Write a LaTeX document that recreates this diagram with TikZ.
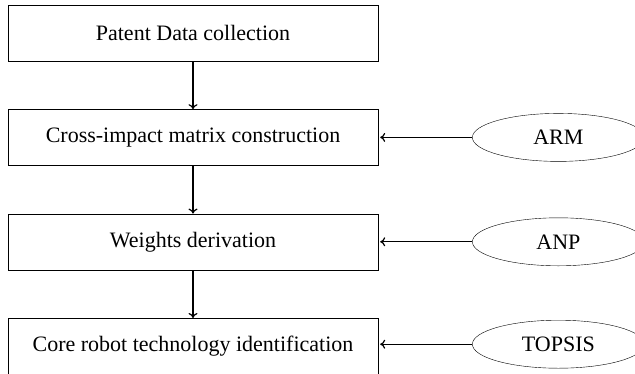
\documentclass[tikz,border=0pt]{standalone}
\usepackage{fontspec}
\setmainfont{Liberation Serif}
\usepackage{tikz}
\usetikzlibrary{positioning,shapes.geometric,arrows.meta}
\tikzset{
  stage/.style={rectangle, draw=black, thin, minimum width=370pt, minimum height=56pt, font=\fontsize{22}{26}\selectfont},
  method/.style={ellipse, draw=black, thin, minimum width=172pt, minimum height=48pt, font=\fontsize{22}{26}\selectfont},
  line/.style={draw, line width=1.2pt, -{To[length=5pt,width=9pt]}},
}
\begin{document}
\begin{tikzpicture}[x=1pt,y=1pt,node distance=48pt]
    \useasboundingbox (0,0) rectangle (635,-373);

    \node[stage] (coll) at (193,-33) {Patent Data collection};
    \node[stage,below=of coll] (cross) {Cross-impact matrix construction};
    \node[stage,below=of cross] (weig) {Weights derivation};
    \node[stage,below=of weig] (core) {Core robot technology identification};

    \node[method,right=94pt of cross] (arm) {ARM};
    \node[method,right=94pt of weig] (anp) {ANP};
    \node[method,right=94pt of core,yshift=2pt] (topsis) {TOPSIS};

    \begin{scope} [every path/.style=line]
      \path (coll) -- (cross);
      \path (cross) -- (weig);
      \path (weig) -- (core);

      \path (arm) -- ([xshift=2pt]cross.east);
      \path (anp) -- ([xshift=2pt]weig.east);
      \path (topsis.west) -- ([xshift=2pt]topsis.west -| core.east);
    \end{scope}

  \end{tikzpicture}
\end{document}
